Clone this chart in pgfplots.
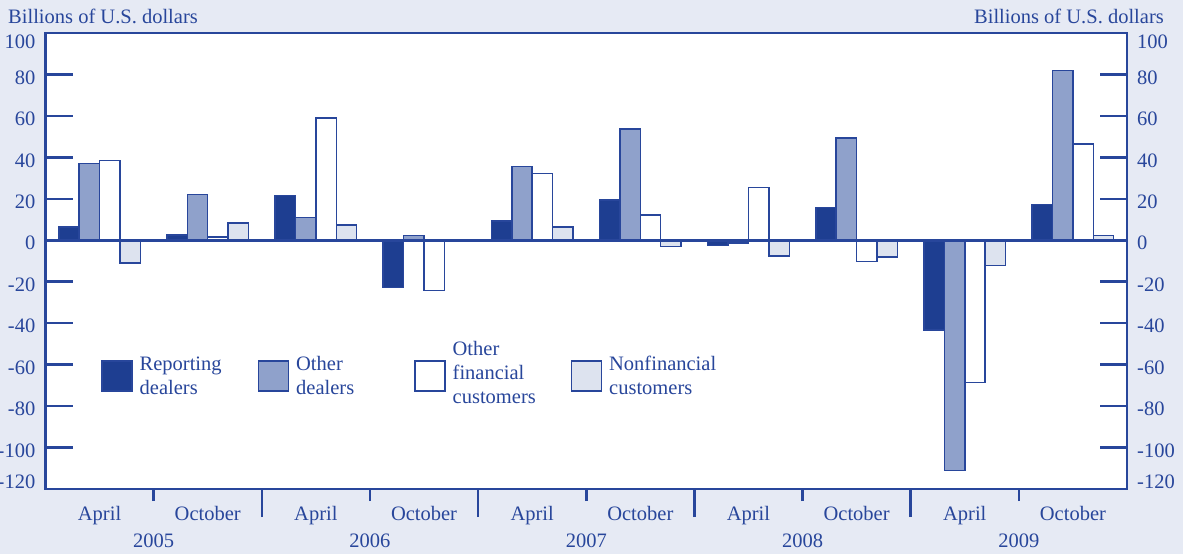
\documentclass[border=0pt]{standalone}
\usepackage{fontspec}
\setmainfont{Liberation Serif}
\usepackage{pgfplots}
\pgfplotsset{compat=1.18}
\usetikzlibrary{backgrounds}
\definecolor{navy}{RGB}{40,70,155}
\definecolor{dark}{RGB}{30,62,145}
\definecolor{mid}{RGB}{143,161,203}
\definecolor{light}{RGB}{221,227,239}
\definecolor{bg}{RGB}{230,234,244}
\newcommand{\lent}[1]{\begin{tabular}{@{}l@{}}#1\end{tabular}}
\begin{document}
\color{navy}
\begin{tikzpicture}[x=1pt,y=1pt,font=\fontsize{20.5}{24}\selectfont]
\begin{axis}[
  scale only axis, width=1081.5pt, height=456pt,
  xmin=0, xmax=10, ymin=-120, ymax=100,
  axis background/.style={fill=white},
  axis line style={navy, line width=2.5pt},
  tick align=inside,
  xtick pos=bottom, ytick pos=both,
  xtick={1,3,5,7,9}, xticklabels={},
  major tick length=12pt,
  xtick style={navy, line width=2.5pt},
  extra x ticks={2,4,6,8}, extra x tick labels={},
  extra x tick style={major tick length=28pt, tick style={navy, line width=2.5pt}},
  ytick=\empty,
  extra y ticks={-100,-80,-60,-40,-20,0,20,40,60,80}, extra y tick labels={},
  extra y tick style={major tick length=27pt, tick style={navy, line width=2.5pt}},
  ybar=0pt, bar width=0.1886,
  clip=false,
  legend columns=4,
  legend style={at={(0.0513,0.329)}, anchor=north west, draw=none, fill=none,
    inner sep=0pt, row sep=0pt,
    nodes={inner sep=0pt, text width=118pt, text=navy},
    /tikz/every odd column/.append style={column sep=7pt},
    /tikz/every even column/.append style={column sep=0pt}},
  legend image code/.code={\draw[#1, line width=1.5pt] (0pt,-22pt) rectangle (30pt,8pt);},
]
\coordinate (bl) at (rel axis cs:0,0);
\addplot[fill=dark, draw=navy, line width=1.5pt] coordinates {
 (0.5,6.5) (1.5,2.5) (2.5,21.7) (3.5,-22.8) (4.5,9.3)
 (5.5,19.5) (6.5,-2.5) (7.5,15.8) (8.5,-43.2) (9.5,17.2)};
\addlegendentry{\lent{Reporting\\dealers}}
\addplot[fill=mid, draw=navy, line width=1.5pt] coordinates {
 (0.5,37) (1.5,22) (2.5,11.1) (3.5,2.4) (4.5,35.7)
 (5.5,53.6) (6.5,-1.4) (7.5,49.3) (8.5,-111) (9.5,82)};
\addlegendentry{\lent{Other\\dealers}}
\addplot[fill=white, draw=navy, line width=1.5pt] coordinates {
 (0.5,38.5) (1.5,1.5) (2.5,59) (3.5,-24.3) (4.5,32.2)
 (5.5,12.3) (6.5,25.5) (7.5,-10.2) (8.5,-68.6) (9.5,46.5)};
\addlegendentry{\raisebox{16.5pt}{\lent{Other\\financial\\customers}}}
\addplot[fill=light, draw=navy, line width=1.5pt] coordinates {
 (0.5,-11) (1.5,8.3) (2.5,7.4) (3.5,0) (4.5,6.3)
 (5.5,-3) (6.5,-7.6) (7.5,-8.1) (8.5,-12.2) (9.5,2.4)};
\addlegendentry{\lent{Nonfinancial\\customers}}
\draw[navy, line width=2.5pt] (axis cs:0,0) -- (axis cs:10,0);
% month and year labels
\node[anchor=base, yshift=-31pt] at (axis cs:0.5,-120) {April};
\node[anchor=base, yshift=-31pt] at (axis cs:1.5,-120) {October};
\node[anchor=base, yshift=-31pt] at (axis cs:2.5,-120) {April};
\node[anchor=base, yshift=-31pt] at (axis cs:3.5,-120) {October};
\node[anchor=base, yshift=-31pt] at (axis cs:4.5,-120) {April};
\node[anchor=base, yshift=-31pt] at (axis cs:5.5,-120) {October};
\node[anchor=base, yshift=-31pt] at (axis cs:6.5,-120) {April};
\node[anchor=base, yshift=-31pt] at (axis cs:7.5,-120) {October};
\node[anchor=base, yshift=-31pt] at (axis cs:8.5,-120) {April};
\node[anchor=base, yshift=-31pt] at (axis cs:9.5,-120) {October};
\node[anchor=base, yshift=-58pt] at (axis cs:1,-120) {2005};
\node[anchor=base, yshift=-58pt] at (axis cs:3,-120) {2006};
\node[anchor=base, yshift=-58pt] at (axis cs:5,-120) {2007};
\node[anchor=base, yshift=-58pt] at (axis cs:7,-120) {2008};
\node[anchor=base, yshift=-58pt] at (axis cs:9,-120) {2009};
% y labels, left and right
\pgfplotsinvokeforeach{-100,-80,-60,-40,-20,0,20,40,60,80}{
  \node[anchor=east, xshift=-10pt, yshift=-3pt, inner sep=0pt] at (axis cs:0,#1) {#1};
  \node[anchor=west, xshift=10pt, yshift=-3pt, inner sep=0pt] at (axis cs:10,#1) {#1};
}
\node[anchor=east, xshift=-10pt, yshift=-9pt, inner sep=0pt] at (axis cs:0,100) {100};
\node[anchor=west, xshift=10pt, yshift=-9pt, inner sep=0pt] at (axis cs:10,100) {100};
\node[anchor=east, xshift=-10pt, yshift=7pt, inner sep=0pt] at (axis cs:0,-120) {-120};
\node[anchor=west, xshift=10pt, yshift=7pt, inner sep=0pt] at (axis cs:10,-120) {-120};
\end{axis}
\path (bl) ++(-37.5,465) node[anchor=base west, inner sep=0pt] {Billions of U.S. dollars};
\path (bl) ++(1118.5,465) node[anchor=base east, inner sep=0pt] {Billions of U.S. dollars};
\begin{scope}[on background layer]
\fill[bg] (bl) ++(-45.5,-65) rectangle ++(1183,554);
\end{scope}
\pgfresetboundingbox
\path[use as bounding box] (bl) ++(-45.5,-65) rectangle ++(1183,554);
\end{tikzpicture}
\end{document}
